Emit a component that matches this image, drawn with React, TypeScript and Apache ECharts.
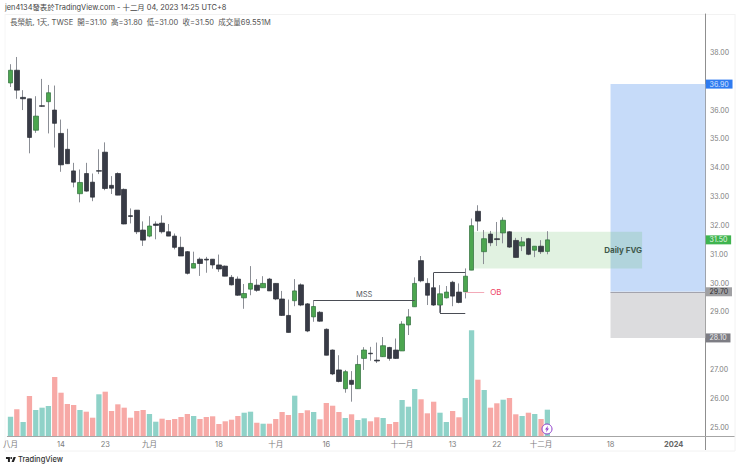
import { useRef, useEffect } from "react";
import * as echarts from "echarts";

const opens = [
  36.94, 37.38, 36.44, 36.39, 35.3, 36.15, 36.29, 36.0, 35.19, 34.64, 33.89, 33.1, 33.8, 33.5, 33.9, 34.54, 33.39,
  33.8, 33.25, 32.34, 32.53, 31.84, 31.63, 32.05, 32.08, 31.78, 31.63, 31.24, 31.09, 30.52, 30.83, 30.83, 30.83,
  30.63, 30.59, 30.2, 30.14, 29.49, 29.79, 29.93, 29.84, 30.14, 29.99, 29.45, 28.88, 29.39, 29.94, 29.28, 28.83,
  28.99, 28.4, 27.68, 26.99, 26.34, 26.63, 26.34, 27.39, 27.57, 27.33, 27.45, 27.77, 27.68, 27.65, 28.55, 29.18,
  30.78, 29.99, 29.84, 29.24, 29.49, 30.03, 29.69, 29.7, 30.45, 32.49, 31.09, 31.7, 31.54, 31.74, 31.78, 31.48,
  31.29, 31.54, 31.14, 31.28, 31.1,
];
const closes = [
  37.38, 36.69, 36.39, 35.05, 35.79, 36.13, 36.6, 35.54, 34.1, 34.14, 33.5, 33.49, 33.19, 32.98, 33.88, 33.28, 33.29,
  33.05, 32.05, 32.31, 31.78, 31.49, 31.98, 32.0, 31.78, 31.63, 31.24, 30.94, 30.34, 30.68, 30.68, 30.8, 30.63,
  30.49, 30.24, 29.94, 29.58, 29.64, 29.99, 29.75, 29.99, 29.73, 29.45, 28.88, 28.29, 29.73, 29.24, 28.34, 29.19,
  28.68, 27.5, 26.85, 26.59, 26.93, 26.49, 27.18, 27.68, 27.55, 27.3, 27.83, 27.39, 27.39, 28.58, 28.83, 29.99,
  30.08, 29.58, 29.24, 29.63, 29.69, 29.55, 29.33, 30.24, 31.99, 32.15, 31.54, 31.4, 31.51, 32.18, 31.25, 30.89,
  31.43, 31.0, 31.28, 31.09, 31.5,
];
const lows = [
  36.8, 36.39, 36.0, 34.5, 35.21, 36.11, 35.19, 34.7, 33.86, 34.13, 33.32, 32.8, 33.17, 32.84, 33.78, 33.22, 33.09,
  33.05, 32.04, 32.07, 31.7, 31.29, 31.59, 31.52, 31.72, 31.63, 31.17, 30.94, 30.3, 30.52, 30.25, 30.36, 30.5,
  30.39, 30.24, 29.92, 29.56, 29.11, 29.58, 29.7, 29.84, 29.73, 29.41, 28.86, 28.29, 29.2, 29.2, 28.3, 28.66,
  28.66, 27.5, 26.81, 26.56, 26.2, 25.89, 26.34, 26.99, 27.31, 27.23, 27.44, 27.31, 27.37, 27.65, 28.2, 29.18,
  30.03, 29.24, 29.21, 28.97, 29.47, 29.2, 29.3, 29.47, 30.45, 31.81, 30.66, 31.28, 31.29, 31.38, 31.22, 30.89,
  31.11, 30.97, 30.9, 31.01, 31.0,
];
const highs = [
  37.59, 37.84, 36.69, 36.39, 36.48, 37.08, 36.87, 36.85, 35.67, 35.35, 34.17, 33.94, 34.17, 33.8, 34.64, 34.88, 33.71,
  33.84, 33.28, 32.59, 32.53, 32.14, 32.32, 32.14, 32.35, 32.05, 31.72, 31.61, 31.11, 31.09, 30.89, 30.91, 30.83,
  30.99, 30.61, 30.28, 30.23, 29.97, 30.59, 30.14, 30.24, 30.18, 29.99, 29.73, 29.43, 30.14, 29.99, 29.31, 29.41,
  29.03, 28.43, 27.7, 27.5, 26.99, 26.95, 27.5, 27.78, 27.79, 27.94, 28.13, 27.79, 28.08, 28.68, 29.1, 30.2,
  30.94, 30.17, 30.36, 29.93, 29.9, 30.08, 29.99, 30.51, 32.24, 32.7, 31.84, 31.81, 32.12, 32.28, 31.8, 31.57,
  31.6, 31.57, 31.28, 31.49, 31.8,
];
// 成交量 (M)
const volumes = [
  51, 70.6, 37, 105.8, 68.8, 74.9, 79.4, 156, 114.5, 84.6, 82, 68.8, 64.3, 48.4, 110.3, 117.2, 66.1, 83.8, 74.9, 48.4,
  66.1, 68.8, 58.2, 37.8, 45.8, 42.3, 45, 50.3, 58.2, 52.9, 45, 50.3, 52.1, 31.7, 38.9, 43.1, 52.9, 61.6, 64.3, 35.2,
  32.5, 32.5, 45, 63.5, 55.5, 106.6, 60.8, 68, 63.5, 44.2, 87.3, 80.1, 63.5, 47.6, 57.4, 42.3, 46.8, 38.9, 49.5, 47.6,
  31.7, 37, 95.2, 77.5, 124.3, 97.1, 60, 90.7, 61.6, 37, 66.1, 49.5, 100.5, 279.6, 148.9, 121.7, 74.9, 86.5, 96, 100.5,
  57.4, 52.9, 61.6, 58.2, 45, 69.6,
];
const tealBars = [
  0, 2, 4, 5, 6, 11, 14, 22, 23, 29, 37, 38, 40, 45, 48, 53, 55, 56, 59, 62, 63, 64, 68, 69, 72, 73, 75, 78, 81, 83, 85,
];
const dateLabels: Record<number, string> = {
  0: "八月",
  8: "14",
  15: "23",
  22: "九月",
  33: "18",
  42: "十月",
  50: "16",
  62: "十一月",
  70: "13",
  77: "22",
  84: "十二月",
  95: "18",
  105: "2024",
};
// 37 and 28 sit behind the price tags, so they are left out
const priceTicks = [25, 26, 27, 29, 30, 31, 32, 33, 34, 35, 36, 38];
const tags = [
  { price: 36.9, bg: "#2f7bf0", fg: "#d5e4ff" },
  { price: 31.5, bg: "#3fb44f", fg: "#e4f7e4" },
  { price: 29.7, bg: "#a0a0a3", fg: "#2e2e30" },
  { price: 28.1, bg: "#7d7d84", fg: "#eeeeee" },
];

const SLOTS = 111;
const categories = Array.from({ length: SLOTS }, (_, i) => dateLabels[i] ?? "");
const FONT = 'Inter, "Noto Sans CJK TC", sans-serif';
const LINE = "#4a4d55";

echarts.graphic.registerShape(
  "tvLogo",
  echarts.graphic.extendPath("M14 6H2v6h6v9h6V6zm12 15h-7l6-15h7l-6 15zm-8-9a3 3 0 1 0 0-6 3 3 0 0 0 0 6z", {})
);

const App = () => {
  const chartRef = useRef<HTMLDivElement>(null);

  useEffect(() => {
    if (!chartRef.current) return;
    const myChart = echarts.init(chartRef.current, null, { renderer: "svg" });
    const option: any = {
      animation: false,
      backgroundColor: "#fff",
      textStyle: { fontFamily: FONT },
      title: [
        {
          text: "jen4134發表於TradingView.com - 十二月 04, 2023 14:25 UTC+8",
          left: 5,
          top: 4,
          padding: 0,
          textStyle: { fontSize: 7.4, fontWeight: 400, color: "#444", fontFamily: FONT },
        },
        {
          text: "長榮航, 1天, TWSE  開=31.10  高=31.80  低=31.00  收=31.50  成交量69.551M",
          left: 10,
          top: 19,
          padding: 0,
          textStyle: { fontSize: 7.5, fontWeight: 400, color: "#555", fontFamily: FONT },
        },
      ],
      grid: { left: 5.83, top: 14, width: 702.6, height: 422 },
      xAxis: {
        type: "category",
        data: categories,
        boundaryGap: true,
        axisTick: { show: false },
        splitLine: { show: false },
        axisLine: { lineStyle: { color: "#a6a6a6", width: 1 } },
        axisLabel: {
          interval: (_i: number, v: string) => v !== "",
          margin: 5,
          fontSize: 7.5,
          color: "#7c7c7c",
          hideOverlap: false,
          formatter: (v: string) => (v === "2024" ? "{b|2024}" : v),
          rich: { b: { fontSize: 7.5, fontWeight: 700, color: "#666", fontFamily: FONT } },
        },
      },
      yAxis: [
        {
          type: "value",
          position: "right",
          offset: -2.9,
          min: 24.7,
          max: 39.33,
          splitLine: { show: false },
          axisTick: { show: false },
          axisLine: { show: true, lineStyle: { color: "#8f8f8f", width: 1 } },
          axisLabel: {
            customValues: priceTicks,
            margin: 4.5,
            fontSize: 7,
            color: "#808080",
            formatter: (v: number) => v.toFixed(2),
          },
        },
        { type: "value", min: 0, max: 1116, show: false },
      ],
      series: [
        {
          name: "volume",
          type: "bar",
          yAxisIndex: 1,
          barWidth: 5.3,
          z: 1,
          data: volumes.map((v, i) => ({
            value: v,
            itemStyle: { color: tealBars.includes(i) ? "#8fd2c8" : "#f7a9a6" },
          })),
        },
        {
          name: "zones",
          type: "line",
          data: [],
          z: 2,
          markArea: {
            silent: true,
            data: [
              [
                { coord: [95, 36.9], itemStyle: { color: "#c6dbf9" } },
                { coord: [110, 29.7] },
              ],
              [
                { coord: [95, 29.7], itemStyle: { color: "#dcdcde" } },
                { coord: [110, 28.1] },
              ],
              [
                { coord: [73, 31.78], itemStyle: { color: "rgba(76,175,80,0.17)" } },
                { coord: [100, 30.51] },
              ],
            ],
          },
        },
        {
          name: "wicks",
          type: "candlestick",
          z: 3,
          barWidth: 1,
          itemStyle: { color: "#8b8e95", color0: "#8b8e95", borderColor: "#8b8e95", borderColor0: "#8b8e95", borderWidth: 1 },
          data: opens.map((o, i) => [o, closes[i], lows[i], highs[i]]),
        },
        {
          name: "bodies",
          type: "candlestick",
          z: 4,
          barWidth: 5,
          itemStyle: { color: "#4ca64f", color0: "#383b46", borderColor: "#2f6f3c", borderColor0: "#2b2e37", borderWidth: 0.7 },
          data: opens.map((o, i) => [o, closes[i], Math.min(o, closes[i]), Math.max(o, closes[i])]),
        },
        {
          name: "drawings",
          type: "line",
          data: [],
          z: 5,
          markLine: {
            silent: true,
            symbol: "none",
            label: { show: false },
            lineStyle: { color: LINE, width: 1, type: "solid" },
            data: [
              [
                {
                  coord: [48, 29.39],
                  label: {
                    show: true,
                    formatter: "MSS",
                    position: "insideMiddleTop",
                    distance: 2,
                    fontSize: 7.5,
                    color: "#55585f",
                  },
                },
                { coord: [64, 29.39] },
              ],
              [{ coord: [67, 30.36] }, { coord: [72, 30.36] }],
              [{ coord: [67, 30.36] }, { coord: [67, 29.84] }],
              [{ coord: [68, 28.97] }, { coord: [72, 28.97] }],
              [{ coord: [68, 28.97] }, { coord: [68, 29.24] }],
              [
                {
                  coord: [72, 29.7],
                  lineStyle: { color: "#f3aab8", width: 1, type: "solid" },
                  label: {
                    show: true,
                    formatter: "OB",
                    position: "end",
                    distance: 6,
                    fontSize: 8,
                    color: "#ee3f5f",
                  },
                },
                { coord: [75, 29.7] },
              ],
              [
                { coord: [95, 29.7], lineStyle: { color: "#a3a3ad", width: 1, type: "solid" } },
                { coord: [110, 29.7] },
              ],
            ],
          },
          markPoint: {
            silent: true,
            data: [
              {
                coord: [97, 31.15],
                symbolSize: 0,
                label: {
                  show: true,
                  position: "inside",
                  formatter: "Daily FVG",
                  fontSize: 8,
                  fontWeight: 700,
                  color: "#40594c",
                },
              },
              ...tags.map((t) => ({
                coord: [110, t.price],
                symbolSize: 0,
                label: {
                  show: true,
                  position: "right",
                  distance: 0.5,
                  formatter: t.price.toFixed(2),
                  fontSize: 7,
                  color: t.fg,
                  backgroundColor: t.bg,
                  padding: [1, 3.8, 1, 3.8],
                  lineHeight: 7,
                },
              })),
            ],
          },
        },
      ],
      graphic: [
        { type: "line", shape: { x1: 708, y1: 436.5, x2: 735, y2: 436.5 }, style: { stroke: "#a6a6a6", lineWidth: 1 } },
        { type: "line", shape: { x1: 705.5, y1: 436, x2: 705.5, y2: 450 }, style: { stroke: "#8f8f8f", lineWidth: 1 } },
        { type: "line", shape: { x1: 5, y1: 14.5, x2: 735, y2: 14.5 }, style: { stroke: "#f2f2f2", lineWidth: 1 } },
        { type: "line", shape: { x1: 5, y1: 451, x2: 735, y2: 451 }, style: { stroke: "#f2f2f2", lineWidth: 1 } },
        { type: "line", shape: { x1: 735, y1: 14, x2: 735, y2: 451 }, style: { stroke: "#f2f2f2", lineWidth: 1 } },
        { type: "line", shape: { x1: 5, y1: 14, x2: 5, y2: 451 }, style: { stroke: "#f6f6f6", lineWidth: 1 } },
        { type: "tvLogo", x: 5.3, y: 455, scaleX: 0.33, scaleY: 0.33, style: { fill: "#222" } },
        {
          type: "text",
          x: 18,
          y: 456,
          style: { text: "TradingView", fontSize: 7.5, fontWeight: 500, fill: "#333", fontFamily: FONT },
        },
        {
          type: "circle",
          z: 10,
          shape: { cx: 547, cy: 429, r: 5 },
          style: { fill: "#fff", stroke: "#8e3ccb", lineWidth: 1 },
        },
        {
          type: "polygon",
          z: 11,
          shape: { points: [[548, 425.8], [545, 429.5], [546.7, 429.5], [546, 432.2], [549, 428.5], [547.3, 428.5]] },
          style: { fill: "#8e3ccb" },
        },
      ],
    };
    myChart.setOption(option);
    return () => {
      myChart.dispose();
    };
  }, []);

  return <div ref={chartRef} style={{ position: "fixed", left: 0, top: 0, width: 740, height: 470 }}></div>;
};

export default App;
